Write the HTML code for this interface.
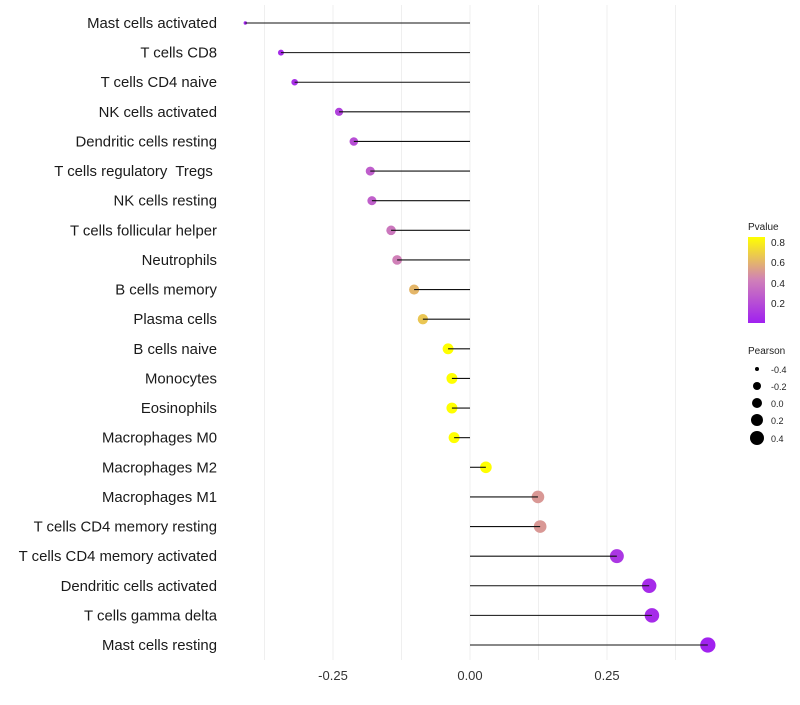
<!DOCTYPE html>
<html><head><meta charset="utf-8"><style>
body{margin:0;background:#fff;font-family:"Liberation Sans",sans-serif}
</style></head><body>
<svg id="chart" width="800" height="700" xmlns="http://www.w3.org/2000/svg">
<defs><linearGradient id="pg" x1="0" y1="1" x2="0" y2="0">
<stop offset="0" stop-color="#A020F0"/><stop offset="0.5" stop-color="#D080B8"/><stop offset="1" stop-color="#FFFF00"/></linearGradient></defs>
<g id="grid"></g><g id="marks"></g><g id="labels"></g>
<g font-size="10" fill="#222">
<text x="748" y="230">Pvalue</text>
<rect x="748" y="237" width="17" height="86" fill="url(#pg)"/>
<text x="771" y="246">0.8</text><text x="771" y="266">0.6</text><text x="771" y="287">0.4</text><text x="771" y="307">0.2</text>
</g>
<g font-size="10" fill="#222">
<text x="748" y="354">Pearson</text>
<circle cx="757" cy="369" r="2" fill="#000"/><text x="771" y="373" font-size="9">-0.4</text>
<circle cx="757" cy="386" r="4" fill="#000"/><text x="771" y="390" font-size="9">-0.2</text>
<circle cx="757" cy="403" r="5" fill="#000"/><text x="771" y="407" font-size="9">0.0</text>
<circle cx="757" cy="420" r="6" fill="#000"/><text x="771" y="424" font-size="9">0.2</text>
<circle cx="757" cy="438" r="7" fill="#000"/><text x="771" y="442" font-size="9">0.4</text>
</g>
</svg>
<script>
const categories=["Mast cells activated","T cells CD8","T cells CD4 naive","NK cells activated","Dendritic cells resting","T cells regulatory  Tregs ","NK cells resting","T cells follicular helper","Neutrophils","B cells memory","Plasma cells","B cells naive","Monocytes","Eosinophils","Macrophages M0","Macrophages M2","Macrophages M1","T cells CD4 memory resting","T cells CD4 memory activated","Dendritic cells activated","T cells gamma delta","Mast cells resting"];
const pearson=[-0.41,-0.345,-0.32,-0.239,-0.212,-0.182,-0.179,-0.144,-0.133,-0.102,-0.086,-0.040,-0.033,-0.033,-0.029,0.029,0.124,0.128,0.268,0.327,0.332,0.434];
const pvalue=[0.02,0.05,0.07,0.15,0.2,0.27,0.28,0.38,0.42,0.6,0.65,0.84,0.86,0.86,0.86,0.87,0.5,0.5,0.1,0.05,0.05,0.01];
const ticks=[-0.25,0,0.25];
const tickLabels=["-0.25","0.00","0.25"];
const NS="http://www.w3.org/2000/svg";
const X=v=>470+v*548;
const Y=i=>23+i*(622/21);
const R=v=>1+7.2*Math.sqrt(Math.max(0,v+0.42));
function lerp(a,b,t){return a.map((x,k)=>Math.round(x+(b[k]-x)*t));}
function col(p){const t=Math.min(1,Math.max(0,p/0.84));const s=[[160,32,240],[208,128,184],[255,255,0]];
const c=t<0.5?lerp(s[0],s[1],t/0.5):lerp(s[1],s[2],(t-0.5)/0.5);return `rgb(${c})`;}
function mk(tag,a,parent){const e=document.createElementNS(NS,tag);for(const k in a)e.setAttribute(k,a[k]);parent.appendChild(e);return e;}
const g=document.getElementById('grid'),m=document.getElementById('marks'),l=document.getElementById('labels');
[-0.375,-0.25,-0.125,0,0.125,0.25,0.375].forEach(v=>{const e=mk('line',{x1:X(v),x2:X(v),y1:5,y2:660,stroke:'#efefef','stroke-width':1},g);

});
ticks.forEach((v,i)=>{const t=mk('text',{x:X(v),y:680,'text-anchor':'middle','font-size':13,fill:'#333'},l);t.textContent=tickLabels[i];

});
categories.forEach((c,i)=>{
const t=mk('text',{x:217,y:Y(i)+5,'text-anchor':'end','font-size':14.9,fill:'#1a1a1a',style:'white-space:pre'},l);t.textContent=c;


const ci=mk('circle',{cx:X(pearson[i]),cy:Y(i),r:R(pearson[i]),fill:col(pvalue[i])},m);


const ln=mk('line',{x1:X(0),x2:X(pearson[i]),y1:Y(i),y2:Y(i),stroke:'#111','stroke-width':1.1},m);


});
</script>
</body></html>
